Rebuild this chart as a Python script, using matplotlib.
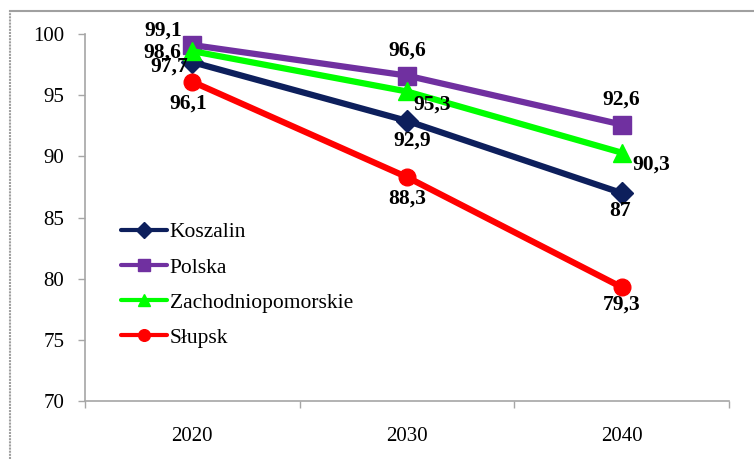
import numpy as np
import matplotlib.pyplot as plt
from matplotlib.lines import Line2D

plt.rcParams.update({
    "font.family": ["Liberation Serif", "DejaVu Serif"],
    "font.size": 15,
})

# data
years = ["2020", "2030", "2040"]
koszalin = [97.7, 92.9, 87]
polska = [99.1, 96.6, 92.6]
zachodnio = [98.6, 95.3, 90.3]
slupsk = [96.1, 88.3, 79.3]

series = [
    ("Koszalin", koszalin, "#0D1F5C", "D", 11, [(-23, -4), (5, -20), (-2, -18)]),
    ("Polska", polska, "#7030A0", "s", 13, [(-29, 14), (0, 25), (0, 25)]),
    ("Zachodniopomorskie", zachodnio, "#00FF00", "^", 13, [(-30, -1), (25, -13), (30, -12)]),
    ("Słupsk", slupsk, "#FF0000", "o", 12, [(-4, -22), (0, -21), (0, -17)]),
]

fig = plt.figure(figsize=(7.54, 4.59), dpi=100)
ax = fig.add_axes([85 / 754, 1 - 401 / 459, (729 - 85) / 754, (401 - 34) / 459])

x = np.arange(len(years))
for name, vals, col, mk, ms, offs in series:
    ax.plot(x, vals, color=col, linewidth=4.5, marker=mk, markersize=ms,
            label=name, solid_capstyle="round")
    for xi, v, off in zip(x, vals, offs):
        ax.annotate(f"{v:g}".replace(".", ","), (xi, v), xytext=off,
                    textcoords="offset pixels", ha="center", va="center",
                    fontsize=15.5, fontweight="bold", color="black")

ax.set_ylim(70, 100)
ax.set_yticks(np.arange(70, 101, 5))
ax.set_xlim(-0.5, 2.5)
ax.set_xticks(x)
ax.set_xticklabels(years)
ax.set_xticks([-0.5, 0.5, 1.5, 2.5], minor=True)
ax.tick_params(axis="x", which="major", length=0, pad=19)
ax.tick_params(axis="x", which="minor", length=5, color="#A6A6A6", width=1)
ax.tick_params(axis="y", length=5, color="#A6A6A6", width=1, pad=10)

ax.spines["top"].set_visible(False)
ax.spines["right"].set_visible(False)
for s in ["left", "bottom"]:
    ax.spines[s].set_color("#A6A6A6")
    ax.spines[s].set_linewidth(1.2)

leg = ax.legend(loc="upper left", bbox_to_anchor=(102 / 754, 1 - 203 / 459),
                bbox_transform=fig.transFigure, frameon=False, fontsize=15.5,
                handlelength=2.1, handletextpad=0.15, labelspacing=0.7,
                markerscale=0.7)
for ln in leg.get_lines():
    ln.set_linewidth(3)

# outer frame (left and top edges only visible)
fig.add_artist(Line2D([10 / 754, 10 / 754], [0, 1 - 11 / 459], color="#A0A0A0",
                      linewidth=1.5, linestyle=(0, (1, 0.5)), transform=fig.transFigure))
fig.add_artist(Line2D([10 / 754, 1], [1 - 11 / 459, 1 - 11 / 459], color="#A0A0A0",
                      linewidth=1.5, transform=fig.transFigure))

plt.savefig("out.png", dpi=100)
